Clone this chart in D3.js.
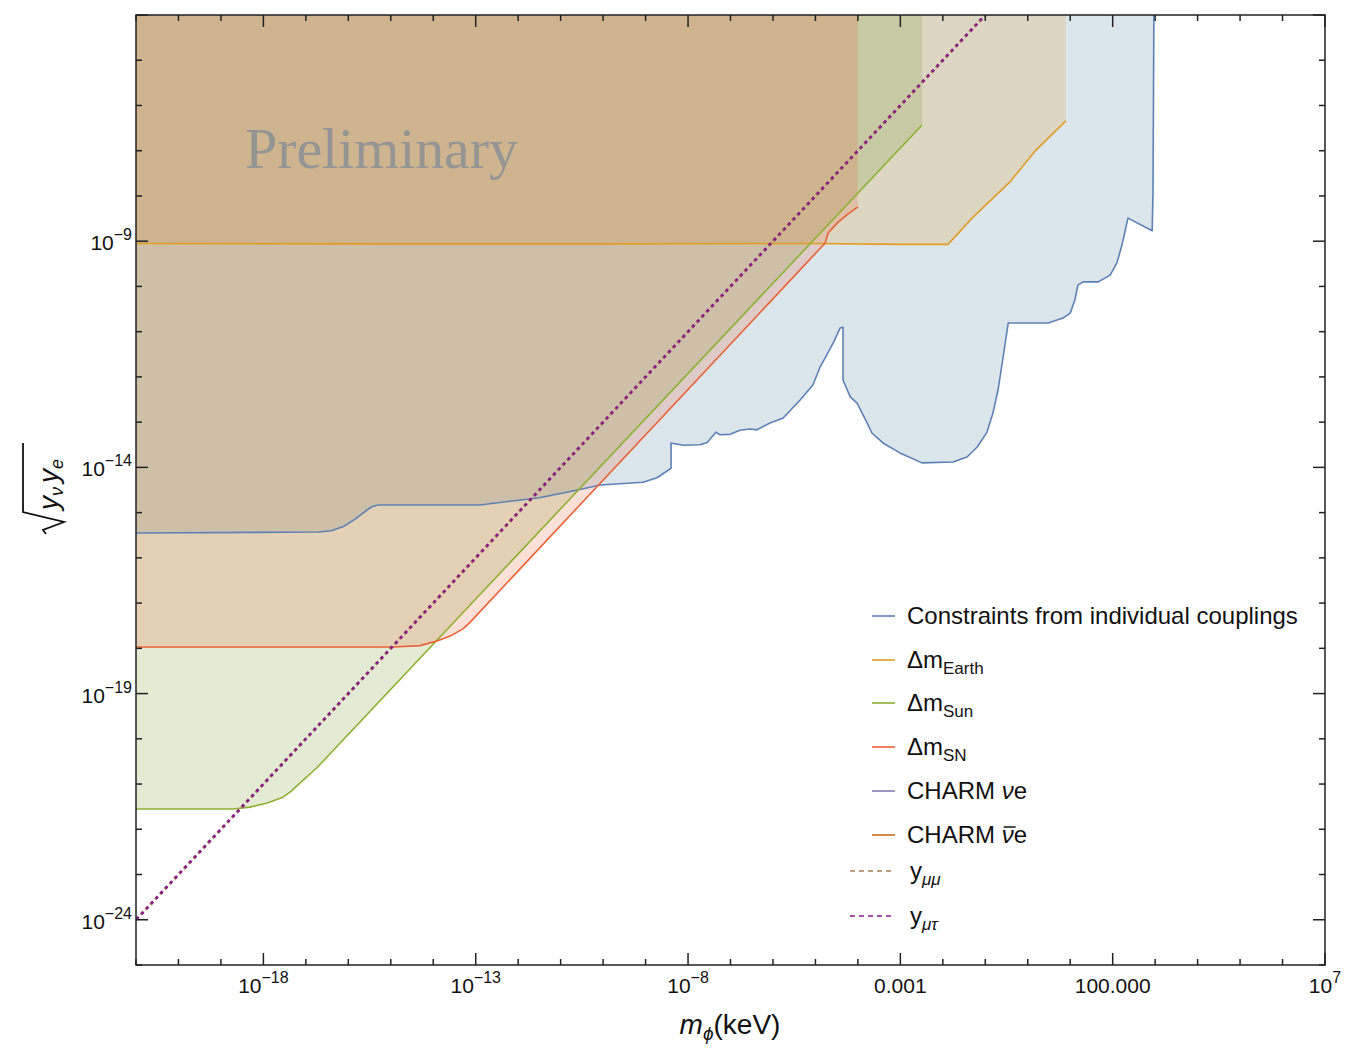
<!DOCTYPE html>
<html>
<head>
<meta charset="utf-8">
<script src="https://cdn.jsdelivr.net/npm/d3@7"></script>
<style>
  body { margin: 0; background: #fff; }
  text { font-family: "Liberation Sans", Arial, Helvetica, sans-serif; }
</style>
</head>
<body>
<svg id="chart" width="1350" height="1048"></svg>
<script>
"use strict";

// all curves as [log10(m_phi / keV), log10(sqrt(y_nu y_e))]
var blueEdge = [
  [-21, -15.45], [-16.7, -15.43], [-16.4, -15.4], [-16.1, -15.3], [-15.85, -15.15], [-15.6, -14.97],
  [-15.45, -14.87], [-15.3, -14.83],
  [-12.9, -14.83], [-11.5, -14.67], [-10.6, -14.5], [-10.07, -14.39], [-9.06, -14.33], [-8.73, -14.23],
  [-8.4, -14.02], [-8.4, -13.46], [-8.12, -13.51], [-7.72, -13.5], [-7.55, -13.45], [-7.34, -13.22],
  [-7.25, -13.28], [-7.01, -13.27], [-6.78, -13.18], [-6.54, -13.15], [-6.38, -13.17], [-6.07, -13.02],
  [-5.76, -12.91], [-5.36, -12.51], [-5.06, -12.18], [-4.89, -11.78], [-4.77, -11.58], [-4.58, -11.25],
  [-4.42, -10.92], [-4.35, -10.9], [-4.35, -12.07], [-4.18, -12.44], [-4.02, -12.58], [-3.78, -13.02],
  [-3.67, -13.24], [-3.41, -13.46], [-3.01, -13.68], [-2.49, -13.9], [-1.76, -13.88], [-1.43, -13.77],
  [-1.19, -13.55], [-0.96, -13.22], [-0.82, -12.8], [-0.7, -12.29], [-0.58, -11.56], [-0.46, -10.81],
  [0.48, -10.81], [0.83, -10.7], [1.0, -10.59], [1.11, -10.3], [1.18, -9.97], [1.3, -9.9], [1.66, -9.9],
  [1.94, -9.75], [2.1, -9.48], [2.22, -9.08], [2.36, -8.49], [2.93, -8.77], [2.95, -7.91], [2.97, -4]
];
var earthEdge = [
  [-21, -9.05], [-15, -9.06], [-10, -9.06], [-5, -9.05], [-3, -9.07], [-1.88, -9.07],
  [-1.31, -8.49], [-0.42, -7.69], [0.17, -7.01], [0.6, -6.61], [0.9, -6.34]
];
var sunEdge = [
  [-21, -21.55], [-18.72, -21.55], [-18.32, -21.51], [-17.91, -21.42], [-17.54, -21.29], [-17.35, -21.16],
  [-17.14, -20.98], [-16.74, -20.64], [-2.49, -6.43]
];
var snEdge = [
  [-21, -17.97], [-14.95, -17.97], [-14.31, -17.94], [-13.91, -17.84], [-13.6, -17.73], [-13.3, -17.57],
  [-13.13, -17.42], [-4.77, -9.04], [-4.7, -8.82], [-4.49, -8.6], [-4.26, -8.42], [-4.0, -8.24]
];
var yMuMuLine = [[-21, -24], [-1, -4]];
var yMuTauLine = [[-21, -24], [-1, -4]];

var xTickExp = [-18, -13, -8, -3, 2, 7];
var xTickLabels = [["10", "\u221218"], ["10", "\u221213"], ["10", "\u22128"], ["0.001", ""], ["100.000", ""], ["10", "7"]];
var yTickExp = [-9, -14, -19, -24];
var yTickLabels = [["10", "\u22129"], ["10", "\u221214"], ["10", "\u221219"], ["10", "\u221224"]];

var legendNames = ["Constraints from individual couplings", "\u0394m|Earth", "\u0394m|Sun", "\u0394m|SN",
  "CHARM ve", "CHARM ve", "y|\u03bc\u03bc", "y|\u03bc\u03c4"];
var legendColors = ["#5e81b5", "#e19c24", "#8fb032", "#eb6235", "#8778b3", "#c56e1a", "#a57d4f", "#8b1a8b"];
// fill tints for the shaded regions (blue, earth, sun, SN)
var fillColors = ["#4b7da0", "#e19c24", "#739b2d", "#eb6235"];

var svg = d3.select("#chart");
var pLeft = 136, pRight = 1325, pTop = 15, pBottom = 965;

var x = d3.scaleLog().domain([1e-21, 1e7]).range([pLeft, pRight]);
var y = d3.scaleLog().domain([1e-25, 1e-4]).range([pBottom, pTop]);

var line = d3.line()
  .x(function(d) { return x(Math.pow(10, d[0])); })
  .y(function(d) { return y(Math.pow(10, d[1])); });

svg.append("clipPath").attr("id", "plotclip")
  .append("rect").attr("x", pLeft).attr("y", pTop).attr("width", pRight - pLeft).attr("height", pBottom - pTop);

var plot = svg.append("g").attr("clip-path", "url(#plotclip)");

function region(edge) {
  var last = edge[edge.length - 1];
  return line(edge) + "L" + x(Math.pow(10, last[0])) + "," + pTop + "L" + pLeft + "," + pTop + "Z";
}

var edges = [blueEdge, earthEdge, sunEdge, snEdge];
edges.forEach(function(edge, i) {
  plot.append("path")
    .attr("d", region(edge))
    .attr("fill", fillColors[i])
    .attr("fill-opacity", 0.2)
    .attr("stroke", "none");
});

edges.forEach(function(edge, i) {
  plot.append("path")
    .attr("d", line(edge))
    .attr("fill", "none")
    .attr("stroke", legendColors[i])
    .attr("stroke-width", 1.6)
    .attr("stroke-linejoin", "round");
});

plot.append("path").attr("d", line(yMuMuLine))
  .attr("fill", "none").attr("stroke", legendColors[6]).attr("stroke-width", 2.8)
  .attr("stroke-dasharray", "3,4");
plot.append("path").attr("d", line(yMuTauLine))
  .attr("fill", "none").attr("stroke", legendColors[7]).attr("stroke-width", 2.8)
  .attr("stroke-dasharray", "3,4").attr("stroke-dashoffset", -1);

svg.append("text")
  .attr("x", 245).attr("y", 168)
  .attr("textLength", 273)
  .style("font-family", "'Liberation Serif', 'Times New Roman', serif")
  .style("font-size", "58px")
  .attr("fill", "#959595")
  .text("Preliminary");

// frame and ticks
var axisG = svg.append("g").attr("stroke", "#222").attr("stroke-width", 1.5);
axisG.append("rect").attr("x", pLeft).attr("y", pTop).attr("width", pRight - pLeft).attr("height", pBottom - pTop)
  .attr("fill", "none");

d3.range(-21, 8).forEach(function(e) {
  var len = xTickExp.indexOf(e) >= 0 ? 12 : 6;
  var px = x(Math.pow(10, e));
  axisG.append("line").attr("x1", px).attr("x2", px).attr("y1", pBottom).attr("y2", pBottom - len);
  axisG.append("line").attr("x1", px).attr("x2", px).attr("y1", pTop).attr("y2", pTop + len);
});
d3.range(-25, -3).forEach(function(e) {
  var len = (e + 24) % 5 === 0 ? 12 : 6;
  var py = y(Math.pow(10, e));
  axisG.append("line").attr("y1", py).attr("y2", py).attr("x1", pLeft).attr("x2", pLeft + len);
  axisG.append("line").attr("y1", py).attr("y2", py).attr("x1", pRight).attr("x2", pRight - len);
});

xTickExp.forEach(function(e, i) {
  var t = svg.append("text")
    .attr("x", x(Math.pow(10, e))).attr("y", 993)
    .attr("text-anchor", "middle")
    .style("font-size", "21px").attr("fill", "#111");
  t.append("tspan").text(xTickLabels[i][0]);
  if (xTickLabels[i][1]) {
    t.append("tspan").attr("dy", -10).style("font-size", "16px").text(xTickLabels[i][1]);
  }
});

yTickExp.forEach(function(e, i) {
  var t = svg.append("text")
    .attr("x", 132).attr("y", y(Math.pow(10, e)) + 9)
    .attr("text-anchor", "end")
    .style("font-size", "21px").attr("fill", "#111");
  t.append("tspan").text(yTickLabels[i][0]);
  t.append("tspan").attr("dy", -10).style("font-size", "16px").text(yTickLabels[i][1]);
});

// axis labels
var xl = svg.append("text").attr("x", 730).attr("y", 1034).attr("text-anchor", "middle")
  .style("font-size", "28px").attr("fill", "#111");
xl.append("tspan").style("font-style", "italic").text("m");
xl.append("tspan").style("font-style", "italic").style("font-size", "19px").attr("dy", 6).text("\u03d5");
xl.append("tspan").attr("dy", -6).text("(keV)");

var yl = svg.append("g").attr("transform", "translate(58,490) rotate(-90)");
yl.append("path")
  .attr("d", "M-44,-12L-40,-15L-32,6L-22,-35L47,-35")
  .attr("fill", "none").attr("stroke", "#111").attr("stroke-width", 1.8);
var ylt = yl.append("text").attr("x", -20).attr("y", 0)
  .style("font-size", "28px").style("font-style", "italic").attr("fill", "#111");
ylt.append("tspan").text("y");
ylt.append("tspan").style("font-size", "18px").attr("dy", 5).text("\u03bd");
ylt.append("tspan").attr("dy", -5).attr("dx", 4).text("y");
ylt.append("tspan").style("font-size", "18px").attr("dy", 5).text("e");

// legend
var legendRowY = [616, 660, 703, 747, 791, 835, 871, 916];
var legend = svg.append("g").attr("class", "legend");
legendNames.forEach(function(name, i) {
  var cy = legendRowY[i];
  var dashed = i >= 6;
  legend.append("line")
    .attr("x1", dashed ? 850 : 872).attr("x2", 895)
    .attr("y1", cy).attr("y2", cy)
    .attr("stroke", legendColors[i]).attr("stroke-width", 1.6)
    .attr("stroke-dasharray", dashed ? "5,4" : null);
  var t = legend.append("text")
    .attr("x", dashed ? 910 : 907).attr("y", cy + 8)
    .style("font-size", "24px").attr("fill", "#111");
  var parts = name.split("|");
  if (i === 4 || i === 5) {
    t.append("tspan").text("CHARM ");
    t.append("tspan").style("font-style", "italic").text("\u03bd");
    t.append("tspan").text("e");
    if (i === 5) {
      var node = t.node();
      var x0 = node.getStartPositionOfChar(6).x, x1 = node.getEndPositionOfChar(6).x;
      legend.append("line")
        .attr("x1", x0 + 2).attr("x2", x1 + 2)
        .attr("y1", cy - 8).attr("y2", cy - 8)
        .attr("stroke", "#111").attr("stroke-width", 1.5);
    }
  } else if (parts.length > 1) {
    t.append("tspan").text(parts[0]);
    var sub = t.append("tspan").attr("dy", 6).style("font-size", "17px").text(parts[1]);
    if (dashed) sub.style("font-style", "italic");
  } else {
    t.text(name);
  }
});
</script>
</body>
</html>
